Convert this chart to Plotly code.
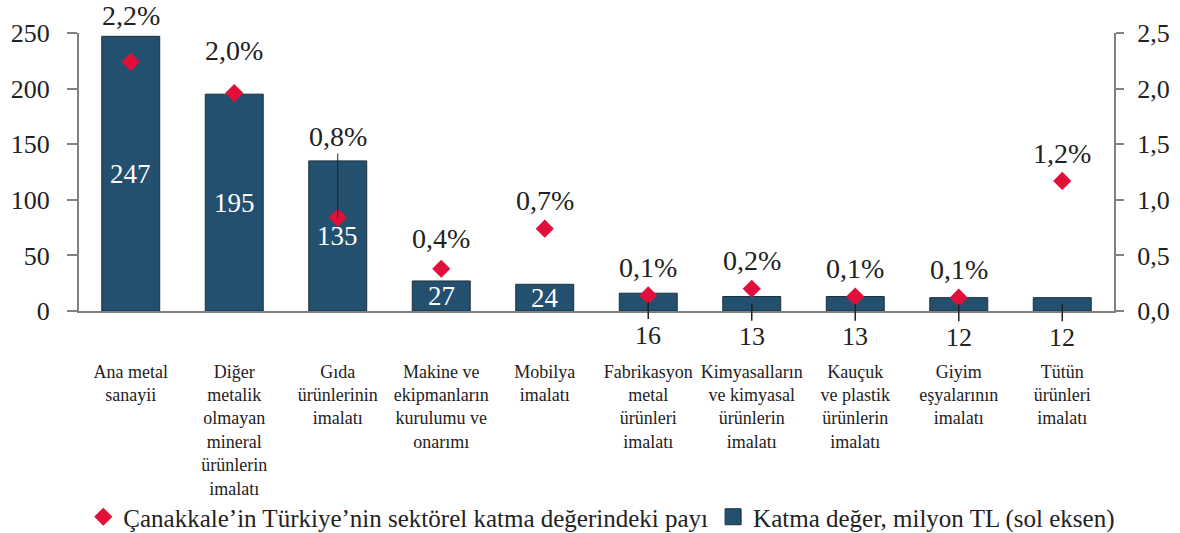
import plotly.graph_objects as go

categories = [
    "Ana metal sanayii",
    "Diğer metalik olmayan mineral ürünlerin imalatı",
    "Gıda ürünlerinin imalatı",
    "Makine ve ekipmanların kurulumu ve onarımı",
    "Mobilya imalatı",
    "Fabrikasyon metal ürünleri imalatı",
    "Kimyasalların ve kimyasal ürünlerin imalatı",
    "Kauçuk ve plastik ürünlerin imalatı",
    "Giyim eşyalarının imalatı",
    "Tütün ürünleri imalatı",
]
tick_labels = [
    "Ana metal<br>sanayii",
    "Diğer<br>metalik<br>olmayan<br>mineral<br>ürünlerin<br>imalatı",
    "Gıda<br>ürünlerinin<br>imalatı",
    "Makine ve<br>ekipmanların<br>kurulumu ve<br>onarımı",
    "Mobilya<br>imalatı",
    "Fabrikasyon<br>metal<br>ürünleri<br>imalatı",
    "Kimyasalların<br>ve kimyasal<br>ürünlerin<br>imalatı",
    "Kauçuk<br>ve plastik<br>ürünlerin<br>imalatı",
    "Giyim<br>eşyalarının<br>imalatı",
    "Tütün<br>ürünleri<br>imalatı",
]
value_added = [247, 195, 135, 27, 24, 16, 13, 13, 12, 12]          # milyon TL (left axis)
share = [2.24, 1.96, 0.84, 0.38, 0.74, 0.14, 0.20, 0.13, 0.12, 1.17]  # % (right axis)

left_ticks = [0, 50, 100, 150, 200, 250]
right_ticks = [0.0, 0.5, 1.0, 1.5, 2.0, 2.5]

# styles
BAR_COLOR = "#24506f"
DIAMOND_COLOR = "#e0103a"
TEXT_COLOR = "#222222"
AXIS_COLOR = "#808080"
FONT = "Liberation Serif"
share_label_offsets = [46, 43, 81, 30, 28, 28, 28, 28, 28, 27]
share_leader = [False, False, True, False, False, False, False, False, False, False]
inside_threshold = 20

fig = go.Figure()

fig.add_trace(go.Bar(
    x=categories, y=value_added, name="Katma değer, milyon TL (sol eksen)",
    marker=dict(color=BAR_COLOR, line=dict(color="#1b2f3d", width=1)),
    showlegend=False, yaxis="y", hoverinfo="x+y",
))
fig.add_trace(go.Scatter(
    x=categories, y=share, mode="markers", yaxis="y2",
    name="Çanakkale’in Türkiye’nin sektörel katma değerindeki payı",
    marker=dict(symbol="diamond", size=14, color=DIAMOND_COLOR),
    legendrank=1,
))
# legend entry for bars (larger square symbol)
fig.add_trace(go.Scatter(
    x=[None], y=[None], mode="markers", yaxis="y",
    name="Katma değer, milyon TL (sol eksen)",
    marker=dict(symbol="square", size=16, color=BAR_COLOR, line=dict(color="#1b2f3d", width=1)),
    legendrank=2,
))

annotations = []
for cat, v in zip(categories, value_added):
    if v >= inside_threshold:
        annotations.append(dict(
            x=cat, y=v / 2, xref="x", yref="y", text=str(v), showarrow=False,
            font=dict(family=FONT, size=27, color="white"),
        ))
    else:
        annotations.append(dict(
            x=cat, y=v / 2, xref="x", yref="y", text=str(v), showarrow=True,
            arrowhead=0, arrowwidth=1.5, arrowcolor=TEXT_COLOR, ax=0, ay=33,
            font=dict(family=FONT, size=26, color=TEXT_COLOR),
        ))
for cat, s, off, lead in zip(categories, share, share_label_offsets, share_leader):
    annotations.append(dict(
        x=cat, y=s, xref="x", yref="y2",
        text=f"{s:.1f}".replace(".", ",") + "%",
        showarrow=True, arrowhead=0, arrowwidth=1,
        arrowcolor=TEXT_COLOR if lead else "rgba(0,0,0,0)",
        ax=0, ay=-off, standoff=0,
        font=dict(family=FONT, size=28, color=TEXT_COLOR),
    ))

fig.update_layout(
    width=1180, height=533,
    margin=dict(l=79, r=66, t=33, b=222, autoexpand=False),
    paper_bgcolor="white", plot_bgcolor="white",
    font=dict(family=FONT, color=TEXT_COLOR),
    bargap=0.44,
    showlegend=True,
    legend=dict(
        orientation="h", xref="container", yref="container",
        x=0.51, xanchor="center", y=0.03, yanchor="middle",
        font=dict(family=FONT, size=25, color=TEXT_COLOR),
        itemsizing="trace", traceorder="normal", bgcolor="rgba(0,0,0,0)",
        tracegroupgap=0, itemwidth=30,
    ),
    xaxis=dict(
        tickmode="array", tickvals=categories, ticktext=tick_labels,
        range=[-0.5, len(categories) - 0.5],
        tickangle=0, ticks="", showline=True, linecolor=AXIS_COLOR, linewidth=2,
        tickfont=dict(family=FONT, size=18, color=TEXT_COLOR),
        ticklabelstandoff=43, showgrid=False, zeroline=False, automargin=False,
    ),
    yaxis=dict(
        range=[0, 250], tickmode="array", tickvals=left_ticks,
        ticks="outside", ticklen=10, tickcolor=AXIS_COLOR, tickwidth=2,
        showline=True, linecolor=AXIS_COLOR, linewidth=2,
        showgrid=False, zeroline=False, automargin=False,
        tickfont=dict(family=FONT, size=26, color=TEXT_COLOR),
        ticklabelstandoff=12,
    ),
    yaxis2=dict(
        range=[0, 2.5], overlaying="y", side="right", tickmode="array",
        tickvals=right_ticks, tickformat=".1f",
        ticks="outside", ticklen=8, tickcolor=AXIS_COLOR, tickwidth=2,
        showline=True, linecolor=AXIS_COLOR, linewidth=2,
        showgrid=False, zeroline=False, automargin=False,
        tickfont=dict(family=FONT, size=26, color=TEXT_COLOR),
        ticklabelstandoff=8,
    ),
    separators=",.",
    annotations=annotations,
)

fig.write_html(
    "out.html",
    config={"displayModeBar": False},
    post_script="document.body.style.margin='0';document.body.style.padding='0';",
)
